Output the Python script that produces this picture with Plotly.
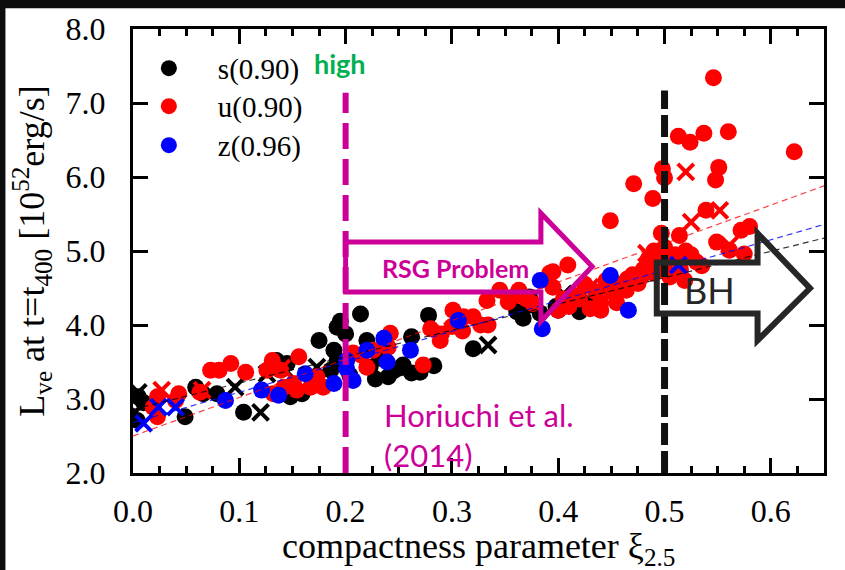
import plotly.graph_objects as go

# ---------------- data ----------------
# s(0.90) series: circles and crosses
s_dot_x = [0.004, 0.005, 0.010, 0.049, 0.059, 0.066, 0.079, 0.104, 0.135, 0.145, 0.148, 0.159,
           0.175, 0.186, 0.189, 0.192, 0.192, 0.214, 0.220, 0.223, 0.251, 0.254, 0.262, 0.278,
           0.320, 0.361, 0.367, 0.373, 0.383, 0.204, 0.240, 0.262, 0.232, 0.283, 0.355, 0.373,
           0.398, 0.412, 0.195, 0.200, 0.228, 0.270, 0.245, 0.400, 0.420]
s_dot_y = [2.71, 3.03, 2.95, 2.76, 3.16, 3.07, 3.07, 2.82, 3.52, 3.48, 3.03, 3.07,
           3.79, 3.39, 3.66, 3.52, 3.97, 4.15, 3.79, 3.43, 3.42, 3.46, 3.84, 4.13,
           3.68, 4.18, 4.09, 4.27, 4.16, 3.32, 3.30, 3.35, 3.55, 3.45, 4.33, 4.38,
           4.25, 4.30, 4.05, 3.88, 3.27, 3.36, 3.38, 4.20, 4.18]
s_x_x = [0.002, 0.005, 0.096, 0.120, 0.126, 0.142, 0.173, 0.334, 0.405, 0.430, 0.437]
s_x_y = [2.82, 3.09, 3.16, 2.82, 3.34, 3.41, 3.43, 3.73, 4.42, 4.33, 4.40]

# u(0.90) series
u_dot_x = [0.019, 0.023, 0.023, 0.040, 0.043, 0.063, 0.073, 0.081, 0.092, 0.106, 0.126, 0.131,
           0.132, 0.139, 0.142, 0.151, 0.154, 0.156, 0.167, 0.173, 0.179, 0.220, 0.207, 0.215,
           0.226, 0.240, 0.242, 0.273, 0.289, 0.280, 0.300, 0.290, 0.310, 0.301, 0.311, 0.320,
           0.327, 0.334, 0.333, 0.345, 0.363, 0.353, 0.376, 0.392, 0.395, 0.395, 0.409,
           0.410, 0.420, 0.430, 0.440, 0.450, 0.460, 0.464, 0.475, 0.470, 0.480, 0.486, 0.449,
           0.471, 0.489, 0.400, 0.415, 0.425, 0.445, 0.455,
           0.405, 0.435, 0.455, 0.465, 0.478, 0.490, 0.440, 0.370, 0.360,
           0.546, 0.513, 0.524, 0.537, 0.560, 0.622, 0.498, 0.500, 0.551, 0.548, 0.539, 0.572,
           0.580, 0.549, 0.561, 0.575, 0.497, 0.514, 0.490, 0.500, 0.510, 0.520, 0.505, 0.495,
           0.485, 0.519, 0.500, 0.530, 0.505, 0.515, 0.525, 0.535]
u_dot_y = [2.89, 2.76, 3.03, 2.98, 3.07, 3.09, 3.39, 3.39, 3.48, 3.36, 3.39, 3.52,
           3.07, 3.39, 3.16, 3.21, 3.12, 3.57, 3.16, 3.30, 3.16, 3.43, 3.62, 3.59,
           3.66, 3.70, 3.89, 3.46, 3.79, 3.95, 3.98, 3.88, 3.92, 4.20, 4.11, 4.11,
           4.00, 4.00, 4.33, 4.47, 4.47, 4.31, 4.29, 4.70, 4.51, 4.72, 4.81,
           4.25, 4.35, 4.22, 4.30, 4.45, 4.55, 4.47, 4.56, 4.68, 4.75, 4.74, 5.41,
           5.91, 5.71, 4.20, 4.40, 4.55, 4.60, 4.30,
           4.35, 4.45, 4.55, 4.62, 4.65, 4.70, 4.20, 4.35, 4.40,
           7.34, 6.55, 6.47, 6.59, 6.61, 6.34, 6.11, 5.99, 6.13, 5.96, 5.55, 5.28,
           5.33, 5.12, 5.01, 4.96, 5.24, 5.21, 5.00, 5.05, 4.95, 5.00, 4.90, 4.85,
           4.90, 4.60, 4.75, 4.85, 4.65, 4.75, 4.95, 4.80]
u_x_x = [0.027, 0.065, 0.140, 0.167, 0.430, 0.483, 0.520, 0.525, 0.552, 0.561]
u_x_y = [3.12, 3.12, 3.42, 3.21, 4.51, 4.97, 6.07, 5.39, 5.55, 5.08]

# z(0.96) series
z_dot_x = [0.087, 0.121, 0.137, 0.162, 0.189, 0.201, 0.207, 0.220, 0.201, 0.236, 0.239, 0.261,
           0.306, 0.383, 0.385, 0.449, 0.466]
z_dot_y = [2.98, 3.12, 3.05, 3.34, 3.21, 3.52, 3.25, 3.66, 3.41, 3.82, 3.50, 3.66,
           4.06, 4.60, 3.95, 4.67, 4.20]
z_x_x = [0.010, 0.024, 0.040, 0.513]
z_x_y = [2.67, 2.89, 2.89, 4.81]

# linear fits (intercept, slope) per series
fit_names = ["s", "u", "z"]
fit_intercept = [2.86, 2.50, 2.68]
fit_slope = [3.56, 5.20, 4.12]

series_names = ["s(0.90)", "u(0.90)", "z(0.96)"]
x_ticks = [0.0, 0.1, 0.2, 0.3, 0.4, 0.5, 0.6]
y_ticks = [2.0, 3.0, 4.0, 5.0, 6.0, 7.0, 8.0]
x_range = [0.0, 0.65]
y_range = [2.0, 8.0]

# ---------------- styles ----------------
colors = {"s": "#000000", "u": "#FF0000", "z": "#0000FF"}
fit_colors = {"s": "rgba(0,0,0,0.8)", "u": "rgba(255,0,0,0.75)", "z": "rgba(0,0,255,0.8)"}
SERIF = "Liberation Serif"
SANS = "Lato"
MAG = "#CC0099"

fig = go.Figure()

dot_sets = [("s", s_dot_x, s_dot_y, s_x_x, s_x_y),
            ("u", u_dot_x, u_dot_y, u_x_x, u_x_y),
            ("z", z_dot_x, z_dot_y, z_x_x, z_x_y)]
legend_ids = ["legend", "legend2", "legend3"]

for (key, dx, dy, cx, cy), name, lid in zip(dot_sets, series_names, legend_ids):
    fig.add_trace(go.Scatter(x=dx, y=dy, mode="markers", name=name, legend=lid,
                             marker=dict(symbol="circle", size=17, color=colors[key],
                                         line=dict(width=0)),
                             showlegend=True))
    fig.add_trace(go.Scatter(x=cx, y=cy, mode="markers", name=name + " x",
                             marker=dict(symbol="x-thin", size=16,
                                         line=dict(width=4, color=colors[key])),
                             showlegend=False))

for key, b, m in zip(fit_names, fit_intercept, fit_slope):
    fig.add_trace(go.Scatter(x=x_range, y=[b + m * x_range[0], b + m * x_range[1]],
                             mode="lines", showlegend=False,
                             line=dict(color=fit_colors[key], width=1.2, dash="6px,4px")))

shapes = []
# black frame strips of the screenshot
shapes.append(dict(type="rect", xref="paper", yref="paper", x0=-0.3, x1=1.1,
                   y0=1.0466, y1=1.1, fillcolor="#0d0d0d", line=dict(width=0), layer="above"))
shapes.append(dict(type="rect", xref="paper", yref="paper", x0=-0.3, x1=-0.1846,
                   y0=-0.3, y1=1.1, fillcolor="#0d0d0d", line=dict(width=0), layer="above"))
# vertical dashed lines
shapes.append(dict(type="line", xref="x", yref="y", x0=0.2, x1=0.2, y0=2.0, y1=7.14,
                   line=dict(color=MAG, width=6, dash="26px,10px"), layer="above"))
shapes.append(dict(type="line", xref="x", yref="y", x0=0.5, x1=0.5, y0=2.0, y1=7.17,
                   line=dict(color="#111111", width=7, dash="22px,6px"), layer="above"))
# RSG arrow
rsg = [(0.200, 5.12), (0.3837, 5.12), (0.3837, 5.51), (0.4319, 4.79), (0.3837, 4.05),
       (0.3837, 4.446), (0.200, 4.446)]
shapes.append(dict(type="path", xref="x", yref="y",
                   path="M " + " L ".join(f"{a},{b}" for a, b in rsg) + " Z",
                   line=dict(color=MAG, width=5), fillcolor="rgba(0,0,0,0)", layer="above"))
# BH arrow
bh = [(0.4927, 4.843), (0.5875, 4.843), (0.5875, 5.239), (0.6368, 4.496), (0.5875, 3.793),
      (0.5875, 4.154), (0.4927, 4.154)]
shapes.append(dict(type="path", xref="x", yref="y",
                   path="M " + " L ".join(f"{a},{b}" for a, b in bh) + " Z",
                   line=dict(color="#262626", width=6), fillcolor="rgba(0,0,0,0)", layer="above"))

annotations = [
    dict(x=0.195, y=7.53, xref="x", yref="y", text="<b>high</b>", showarrow=False,
         font=dict(family=SANS, size=27, color="#00B050")),
    dict(x=0.3034, y=4.77, xref="x", yref="y", text="<b>RSG Problem</b>", showarrow=False,
         font=dict(family=SANS, size=25, color=MAG)),
    dict(x=0.5419, y=4.47, xref="x", yref="y", text="BH", showarrow=False,
         font=dict(family=SANS, size=36, color="#262626")),
    dict(x=0.2345, y=2.52, xref="x", yref="y", text="Horiuchi et al.<br>(2014)",
         showarrow=False, xanchor="left", yanchor="middle", align="left",
         font=dict(family=SANS, size=31, color=MAG)),
    # x-axis title
    dict(x=0.5, y=-0.17, xref="paper", yref="paper",
         text="compactness parameter ξ<sub>2.5</sub>", showarrow=False,
         xanchor="center", yanchor="middle",
         font=dict(family=SERIF, size=36, color="black")),
]

axis_common = dict(showgrid=False, zeroline=False, showline=True, linecolor="black",
                   linewidth=3, mirror="ticks", ticks="inside", tickcolor="black",
                   tickwidth=3, ticklen=15, automargin=False,
                   tickfont=dict(family=SERIF, size=32, color="black"))

legend_style = dict(xanchor="left", yanchor="middle", bgcolor="rgba(0,0,0,0)",
                    borderwidth=0, itemwidth=88,
                    font=dict(family=SERIF, size=29, color="black"))

fig.update_layout(
    width=845, height=570,
    margin=dict(l=133, r=21, t=29, b=97, autoexpand=False),
    paper_bgcolor="white", plot_bgcolor="white",
    shapes=shapes, annotations=annotations,
    showlegend=True,
    legend=dict(x=-0.019, y=0.9115, **legend_style),
    legend2=dict(x=-0.019, y=0.8259, **legend_style),
    legend3=dict(x=-0.019, y=0.7381, **legend_style),
    xaxis=dict(range=x_range, tickvals=x_ticks, ticktext=[f"{v:.1f}" for v in x_ticks],
               minor=dict(dtick=0.025, ticks="inside", ticklen=7, tickwidth=2.5,
                          tickcolor="black"),
               ticklabelstandoff=8,
               **axis_common),
    yaxis=dict(range=y_range, tickvals=y_ticks, ticktext=[f"{v:.1f}" for v in y_ticks],
               ticklabelstandoff=18,
               title=dict(text="L<sub>ve</sub> at t=t<sub>400</sub> [10<sup>52</sup>erg/s]",
                          standoff=10, font=dict(family=SERIF, size=36, color="black")),
               **axis_common),
)

fig.write_html("out.html")
